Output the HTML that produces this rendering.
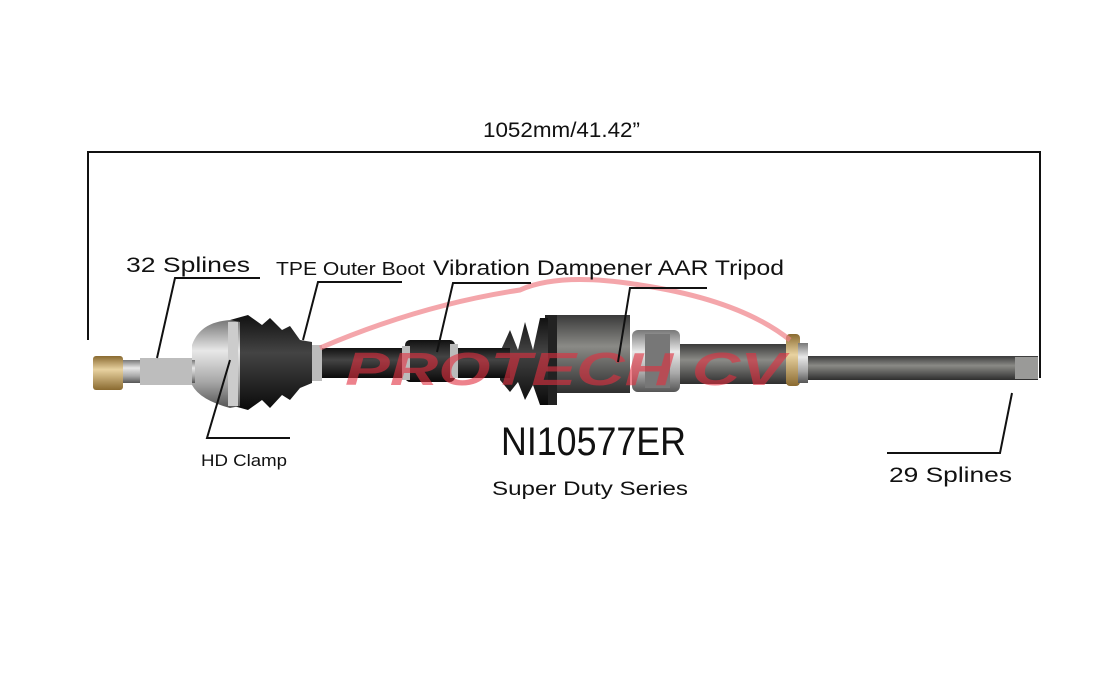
<!DOCTYPE html>
<html><head><meta charset="utf-8"><style>
html,body{margin:0;padding:0;background:#fff;}
svg{display:block;}
text{font-family:"Liberation Sans Narrow","Liberation Sans","Noto Sans CJK SC",sans-serif;fill:#111;}
</style></head><body>
<svg width="1120" height="688" viewBox="0 0 1120 688" xmlns="http://www.w3.org/2000/svg">
<defs>
<linearGradient id="silver" x1="0" y1="0" x2="0" y2="1">
<stop offset="0" stop-color="#777"/><stop offset="0.35" stop-color="#e8e8e8"/><stop offset="0.7" stop-color="#a8a8a8"/><stop offset="1" stop-color="#555"/></linearGradient>
<linearGradient id="black" x1="0" y1="0" x2="0" y2="1">
<stop offset="0" stop-color="#111"/><stop offset="0.4" stop-color="#444"/><stop offset="1" stop-color="#0a0a0a"/></linearGradient>
<linearGradient id="gray" x1="0" y1="0" x2="0" y2="1">
<stop offset="0" stop-color="#3a3a3a"/><stop offset="0.4" stop-color="#8a8a86"/><stop offset="1" stop-color="#2e2e2e"/></linearGradient>
<linearGradient id="brass" x1="0" y1="0" x2="0" y2="1">
<stop offset="0" stop-color="#8a6a30"/><stop offset="0.4" stop-color="#e8d2a0"/><stop offset="1" stop-color="#8a6a30"/></linearGradient>
</defs>

<text x="483" y="137" font-size="21" textLength="157" lengthAdjust="spacingAndGlyphs">1052mm/41.42”</text>
<path d="M88,340 V152 H1040 V378" fill="none" stroke="#111" stroke-width="2"/>

<rect x="800" y="356" width="238" height="24" fill="url(#gray)"/>
<rect x="1015" y="357" width="23" height="22" fill="#9a9a98"/>
<rect x="680" y="344" width="115" height="40" fill="url(#gray)"/>
<rect x="786" y="334" width="14" height="52" rx="4" fill="url(#brass)"/>
<rect x="798" y="343" width="10" height="40" fill="url(#silver)"/>
<rect x="632" y="330" width="48" height="62" rx="6" fill="url(#silver)"/>
<rect x="645" y="334" width="25" height="54" fill="#777"/>
<rect x="545" y="315" width="85" height="78" fill="url(#gray)"/>
<rect x="545" y="315" width="12" height="90" fill="#222"/>
<path d="M500,352 L510,330 L518,350 L525,322 L533,350 L540,318 L548,318 L548,405 L540,405 L533,385 L525,400 L518,382 L510,392 L500,380 Z" fill="url(#black)"/>
<rect x="300" y="348" width="210" height="30" fill="url(#black)"/>
<rect x="405" y="340" width="50" height="42" rx="5" fill="url(#black)"/>
<rect x="402" y="346" width="8" height="34" fill="#bbb"/>
<rect x="450" y="344" width="8" height="34" fill="#bbb"/>
<rect x="308" y="345" width="14" height="36" fill="#bbb"/>
<path d="M230,320 L248,315 L262,325 L270,318 L282,330 L290,326 L300,340 L312,342 L312,383 L300,388 L290,400 L282,395 L270,408 L262,400 L248,410 L230,405 Z" fill="url(#black)"/>
<path d="M192,345 Q200,322 230,320 L240,322 L240,406 L230,408 Q200,400 192,385 Z" fill="url(#silver)"/>
<rect x="228" y="322" width="10" height="84" fill="#ccc"/>
<rect x="120" y="360" width="75" height="23" fill="url(#silver)"/>
<rect x="140" y="358" width="52" height="27" fill="#bdbdbd"/>
<rect x="93" y="356" width="30" height="34" rx="3" fill="url(#brass)"/>

<path d="M320,348 Q420,305 520,290 Q560,272 640,285 Q740,300 790,340" fill="none" stroke="#f08088" stroke-width="5" opacity="0.7"/>
<text x="345" y="385" font-size="46" font-style="italic" font-weight="bold" opacity="0.6" textLength="440" lengthAdjust="spacingAndGlyphs" style="fill:#e23040">PROTECH CV</text>

<g stroke="#111" stroke-width="2" fill="none">
<path d="M260,278 H175 L157,358"/>
<path d="M402,282 H318 L303,340"/>
<path d="M531,283 H453 L437,352"/>
<path d="M707,288 H630 L618,362"/>
<path d="M230,360 L207,438 H290"/>
<path d="M887,453 H1000 L1012,393"/>
</g>
<text x="126" y="272" font-size="21" textLength="124" lengthAdjust="spacingAndGlyphs">32 Splines</text>
<text x="276" y="275" font-size="18" textLength="149" lengthAdjust="spacingAndGlyphs">TPE Outer Boot</text>
<text x="433" y="275" font-size="21" textLength="351" lengthAdjust="spacingAndGlyphs">Vibration Dampener AAR Tripod</text>
<text x="201" y="466" font-size="17" textLength="86" lengthAdjust="spacingAndGlyphs">HD Clamp</text>
<text x="889" y="482" font-size="21" textLength="123" lengthAdjust="spacingAndGlyphs">29 Splines</text>
<text x="501" y="455" font-size="40" textLength="185" lengthAdjust="spacingAndGlyphs">NI10577ER</text>
<text x="492" y="495" font-size="19" textLength="196" lengthAdjust="spacingAndGlyphs">Super Duty Series</text>
</svg>
</body></html>
